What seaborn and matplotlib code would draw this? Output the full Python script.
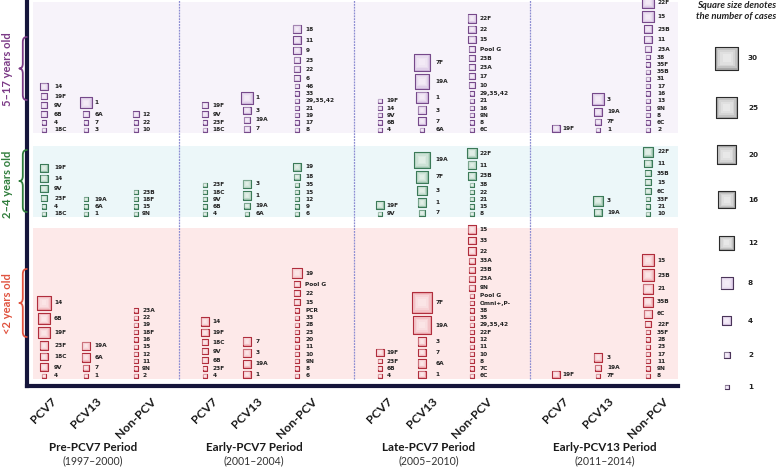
import numpy as np
import pandas as pd
import seaborn as sb
import matplotlib.pyplot as plt
from matplotlib.path import Path
from matplotlib.patches import PathPatch

# ##############################################################################
# data: (vaccine group, serotype, cases), each cell listed top to bottom
PERIODS = ['Pre-PCV7 Period', 'Early-PCV7 Period', 'Late-PCV7 Period', 'Early-PCV13 Period']
YEARS = ['(1997\u20132000)', '(2001\u20132004)', '(2005\u20132010)', '(2011\u20132014)']
GROUPS = ['PCV7', 'PCV13', 'Non-PCV']
AGES = ['5\u201317 years old', '2\u20134 years old', '<2 years old']
LEGEND_CASES = [30, 25, 20, 16, 12, 8, 4, 2, 1]

pre_5_17 = [('PCV7', '14', 3), ('PCV7', '19F', 2), ('PCV7', '9V', 2), ('PCV7', '6B', 2),
            ('PCV7', '4', 1), ('PCV7', '18C', 1),
            ('PCV13', '1', 7), ('PCV13', '6A', 2), ('PCV13', '7', 1), ('PCV13', '3', 1),
            ('Non-PCV', '12', 2), ('Non-PCV', '22', 1), ('Non-PCV', '10', 1)]
pre_2_4 = [('PCV7', '19F', 3), ('PCV7', '14', 3), ('PCV7', '9V', 3), ('PCV7', '23F', 2),
           ('PCV7', '4', 1), ('PCV7', '18C', 1),
           ('PCV13', '19A', 1), ('PCV13', '6A', 1), ('PCV13', '1', 1),
           ('Non-PCV', '23B', 1), ('Non-PCV', '18F', 1), ('Non-PCV', '15', 1), ('Non-PCV', '9N', 1)]
pre_lt2 = [('PCV7', '14', 11), ('PCV7', '6B', 7), ('PCV7', '19F', 7), ('PCV7', '23F', 4),
           ('PCV7', '18C', 3), ('PCV7', '9V', 3), ('PCV7', '4', 1),
           ('PCV13', '19A', 4), ('PCV13', '6A', 4), ('PCV13', '7', 2), ('PCV13', '1', 1),
           ('Non-PCV', '23A', 1), ('Non-PCV', '22', 1), ('Non-PCV', '19', 1), ('Non-PCV', '18F', 1),
           ('Non-PCV', '16', 1), ('Non-PCV', '15', 1), ('Non-PCV', '12', 1), ('Non-PCV', '11', 1),
           ('Non-PCV', '9N', 1), ('Non-PCV', '2', 1)]

e7_5_17 = [('PCV7', '19F', 2), ('PCV7', '9V', 2), ('PCV7', '23F', 1), ('PCV7', '18C', 1),
           ('PCV13', '1', 7), ('PCV13', '3', 3), ('PCV13', '19A', 2), ('PCV13', '7', 2),
           ('Non-PCV', '18', 4), ('Non-PCV', '11', 3), ('Non-PCV', '9', 3), ('Non-PCV', '23', 2),
           ('Non-PCV', '22', 2), ('Non-PCV', '6', 2), ('Non-PCV', '46', 1), ('Non-PCV', '33', 1),
           ('Non-PCV', '29,35,42', 1), ('Non-PCV', '21', 1), ('Non-PCV', '19', 1),
           ('Non-PCV', '17', 1), ('Non-PCV', '8', 1)]
e7_2_4 = [('PCV7', '23F', 1), ('PCV7', '18C', 1), ('PCV7', '9V', 1), ('PCV7', '6B', 1), ('PCV7', '4', 1),
          ('PCV13', '3', 4), ('PCV13', '1', 4), ('PCV13', '19A', 2), ('PCV13', '6A', 1),
          ('Non-PCV', '19', 3), ('Non-PCV', '18', 2), ('Non-PCV', '35', 1), ('Non-PCV', '15', 1),
          ('Non-PCV', '12', 1), ('Non-PCV', '9', 1), ('Non-PCV', '6', 1)]
e7_lt2 = [('PCV7', '14', 4), ('PCV7', '19F', 3), ('PCV7', '18C', 2), ('PCV7', '9V', 2),
          ('PCV7', '6B', 2), ('PCV7', '23F', 1), ('PCV7', '4', 1),
          ('PCV13', '7', 4), ('PCV13', '3', 4), ('PCV13', '19A', 3), ('PCV13', '1', 3),
          ('Non-PCV', '19', 6), ('Non-PCV', 'Pool G', 2), ('Non-PCV', '22', 2), ('Non-PCV', '15', 2),
          ('Non-PCV', 'PCR', 1), ('Non-PCV', '33', 1), ('Non-PCV', '28', 1), ('Non-PCV', '23', 1),
          ('Non-PCV', '20', 1), ('Non-PCV', '11', 1), ('Non-PCV', '10', 1), ('Non-PCV', '9N', 1),
          ('Non-PCV', '8', 1), ('Non-PCV', '6', 1)]

l7_5_17 = [('PCV7', '19F', 1), ('PCV7', '14', 1), ('PCV7', '9V', 1), ('PCV7', '6B', 1), ('PCV7', '4', 1),
           ('PCV13', '7F', 16), ('PCV13', '19A', 12), ('PCV13', '1', 7), ('PCV13', '3', 4),
           ('PCV13', '7', 3), ('PCV13', '6A', 1),
           ('Non-PCV', '22F', 4), ('Non-PCV', '22', 3), ('Non-PCV', '15', 3), ('Non-PCV', 'Pool G', 2),
           ('Non-PCV', '23B', 2), ('Non-PCV', '23A', 2), ('Non-PCV', '17', 2), ('Non-PCV', '10', 2),
           ('Non-PCV', '29,35,42', 1), ('Non-PCV', '21', 1), ('Non-PCV', '16', 1), ('Non-PCV', '9N', 1),
           ('Non-PCV', '8', 1), ('Non-PCV', '6C', 1)]
l7_2_4 = [('PCV7', '19F', 3), ('PCV7', '9V', 1),
          ('PCV13', '19A', 14), ('PCV13', '7F', 8), ('PCV13', '3', 5), ('PCV13', '1', 4), ('PCV13', '7', 2),
          ('Non-PCV', '22F', 5), ('Non-PCV', '11', 4), ('Non-PCV', '23B', 3), ('Non-PCV', '38', 1),
          ('Non-PCV', '22', 1), ('Non-PCV', '21', 1), ('Non-PCV', '15', 1), ('Non-PCV', '8', 1)]
l7_lt2 = [('PCV7', '19F', 3), ('PCV7', '23F', 1), ('PCV7', '6B', 1), ('PCV7', '4', 1),
          ('PCV13', '7F', 24), ('PCV13', '19A', 18), ('PCV13', '3', 4), ('PCV13', '7', 3),
          ('PCV13', '6A', 4), ('PCV13', '1', 3),
          ('Non-PCV', '15', 4), ('Non-PCV', '33', 3), ('Non-PCV', '22', 3), ('Non-PCV', '33A', 2),
          ('Non-PCV', '23B', 2), ('Non-PCV', '23A', 2), ('Non-PCV', '9N', 2), ('Non-PCV', 'Pool G', 1),
          ('Non-PCV', 'Omni+,P-', 1), ('Non-PCV', '38', 1), ('Non-PCV', '35', 1),
          ('Non-PCV', '29,35,42', 1), ('Non-PCV', '22F', 1), ('Non-PCV', '12', 1), ('Non-PCV', '11', 1),
          ('Non-PCV', '10', 1), ('Non-PCV', '8', 1), ('Non-PCV', '7C', 1), ('Non-PCV', '6C', 1)]

e13_5_17 = [('PCV7', '19F', 3),
            ('PCV13', '3', 8), ('PCV13', '19A', 3), ('PCV13', '7F', 2), ('PCV13', '1', 1),
            ('Non-PCV', '22F', 8), ('Non-PCV', '15', 7), ('Non-PCV', '23B', 3), ('Non-PCV', '11', 3),
            ('Non-PCV', '23A', 2), ('Non-PCV', '38', 1), ('Non-PCV', '35F', 1), ('Non-PCV', '35B', 1),
            ('Non-PCV', '31', 1), ('Non-PCV', '17', 1), ('Non-PCV', '16', 1), ('Non-PCV', '13', 1),
            ('Non-PCV', '9N', 1), ('Non-PCV', '8', 1), ('Non-PCV', '6C', 1), ('Non-PCV', '2', 1)]
e13_2_4 = [('PCV13', '3', 5), ('PCV13', '19A', 3),
           ('Non-PCV', '22F', 5), ('Non-PCV', '11', 3), ('Non-PCV', '35B', 2), ('Non-PCV', '15', 2),
           ('Non-PCV', '6C', 2), ('Non-PCV', '33F', 1), ('Non-PCV', '21', 1), ('Non-PCV', '10', 1)]
e13_lt2 = [('PCV7', '19F', 3),
           ('PCV13', '3', 4), ('PCV13', '19A', 2), ('PCV13', '7F', 1),
           ('Non-PCV', '15', 8), ('Non-PCV', '23B', 7), ('Non-PCV', '21', 6), ('Non-PCV', '35B', 5),
           ('Non-PCV', '6C', 4), ('Non-PCV', '22F', 2), ('Non-PCV', '35F', 1), ('Non-PCV', '28', 1),
           ('Non-PCV', '23', 1), ('Non-PCV', '17', 1), ('Non-PCV', '11', 1), ('Non-PCV', '9N', 1),
           ('Non-PCV', '8', 1)]

CELLS = [[pre_5_17, pre_2_4, pre_lt2],
         [e7_5_17, e7_2_4, e7_lt2],
         [l7_5_17, l7_2_4, l7_lt2],
         [e13_5_17, e13_2_4, e13_lt2]]

# ##############################################################################
# layout (pixel units)
DPI = 100
W, H = 780, 468
AX_L, AX_R, AX_B = 27, 678, 386           # main axes edges in image pixels
PERIOD_X0 = [-9, 152, 327, 503]          # period starts (axes px)
COL_DX = [26, 68, 118]
BAND_Y = [(253, 384), (169, 240.3), (7, 158)]
BAND_COL = ['#f7f3fa', '#ecf7f9', '#fde9e9']
FILL = ['#d3bcdf', '#9fc6b0', '#eeaab0']
GLOW = ['#fbf6fd', '#f1f8f4', '#fff3f4']
EDGE = ['#76498a', '#3b7a58', '#b02d3c']
AGE_COL = ['#7b3a86', '#2f7d3b', '#e0533f']
SIZE_MIN, SIZE_MAX = 9.36, 280.8          # marker area (pt^2) for 1 and 30 cases
EDGE_LW = 0.8
GAP = 1.9
GLOW_STEPS = [0.75, 0.5, 0.3, 0.12]       # fractions of marker area for the soft centre


def side_px(n):
  area = SIZE_MIN + (np.asarray(n, dtype=float) - 1) / 29 * (SIZE_MAX - SIZE_MIN)
  return np.sqrt(area) * DPI / 72 + EDGE_LW * DPI / 72


def draw_squares(axis, data, fc, ec, glow):
  # square outline + fill, then a few translucent layers for a soft centre
  sb.scatterplot(data=data, x='x', y='y', size='cases', sizes=(SIZE_MIN, SIZE_MAX),
                 size_norm=(1, 30), marker='s', color=fc, edgecolor=ec,
                 linewidth=EDGE_LW, legend=False, ax=axis, zorder=3)
  for f in GLOW_STEPS:
    sb.scatterplot(data=data, x='x', y='y', size='cases', sizes=(SIZE_MIN * f, SIZE_MAX * f),
                   size_norm=(1, 30), marker='s', color=glow, linewidth=0, alpha=0.35,
                   legend=False, ax=axis, zorder=4)


rows = []
for p in range(len(PERIODS)):
  for a in range(len(AGES)):
    for grp, sero, n in CELLS[p][a]:
      rows.append({'period': p, 'age': a, 'group': GROUPS.index(grp),
                   'serotype': sero, 'cases': n})
df = pd.DataFrame(rows)
df['side'] = side_px(df['cases'])
df['x'] = [PERIOD_X0[p] + COL_DX[g] for p, g in zip(df['period'], df['group'])]
df['y'] = 0.0
for (p, a, g), sub in df.groupby(['period', 'age', 'group']):
  s = sub['side'].to_numpy()[::-1]
  centers = BAND_Y[a][0] + 0.5 + np.cumsum(s + GAP) - GAP - s / 2
  df.loc[sub.index[::-1], 'y'] = centers
df['lx'] = df['x'] + df.groupby(['period', 'group'])['side'].transform('max') / 2 + 2.5

# ##############################################################################
sb.set_style('white')
plt.rcParams['font.family'] = ['Lato', 'DejaVu Sans']

fig = plt.figure(figsize=(W / DPI, H / DPI), dpi=DPI)
ax = fig.add_axes([AX_L / W, (H - AX_B) / H, (AX_R - AX_L) / W, AX_B / H])
ax.set_xlim(0, AX_R - AX_L)
ax.set_ylim(0, AX_B)

# background bands and period separators
for a in range(len(AGES)):
  ax.axhspan(BAND_Y[a][0], BAND_Y[a][1], xmin=6 / (AX_R - AX_L), xmax=1,
             color=BAND_COL[a], lw=0, zorder=0)
for x0 in PERIOD_X0[1:]:
  ax.axvline(x0, ymin=7 / AX_B, ymax=1, color='#8c8cd2', lw=0.9,
             ls=(0, (1.5, 0.8)), zorder=1)

# squares + serotype labels
for a in range(len(AGES)):
  sub = df[df['age'] == a]
  draw_squares(ax, sub, FILL[a], EDGE[a], GLOW[a])
  for r in sub.itertuples():
    ax.text(r.lx, r.y, r.serotype, fontsize=4.2, fontweight='bold', color='#222222',
            family='DejaVu Sans', ha='left', va='center', zorder=5)

# axes styling
ax.set_xlabel('')
ax.set_ylabel('')
ax.set_yticks([])
col_x = [PERIOD_X0[p] + COL_DX[g] for p in range(len(PERIODS)) for g in range(len(GROUPS))]
ax.set_xticks(col_x, labels=GROUPS * len(PERIODS))
ax.tick_params(axis='x', length=0, pad=7, labelsize=8.8, labelrotation=45,
               labelcolor='#1a1a1a')
for t in ax.get_xticklabels():
  t.set_fontweight('bold')
for side in ['top', 'right']:
  ax.spines[side].set_visible(False)
for side in ['left', 'bottom']:
  ax.spines[side].set_color('#15153b')
  ax.spines[side].set_linewidth(3)

# ------------------------------------------------------------------------------
# overlay in image pixels: age labels, braces, period titles, size legend
ov = fig.add_axes([0, 0, 1, 1])
ov.set_xlim(0, W)
ov.set_ylim(H, 0)
ov.axis('off')

AGE_TEXT_Y = [69.5, 184, 303.7]
BRACE_Y = [(37, 100), (150, 212), (269, 337)]


def brace(axis, y0, y1, color, x_arm=26.8, x_mid=22.8, x_tip=19.3, r=5):
  ym = (y0 + y1) / 2
  verts = [(x_arm, y0), (x_mid, y0), (x_mid, y0 + r),
           (x_mid, ym - r), (x_mid, ym), (x_tip, ym),
           (x_mid, ym), (x_mid, ym + r),
           (x_mid, y1 - r), (x_mid, y1), (x_arm, y1)]
  codes = [Path.MOVETO, Path.CURVE3, Path.CURVE3, Path.LINETO, Path.CURVE3, Path.CURVE3,
           Path.CURVE3, Path.CURVE3, Path.LINETO, Path.CURVE3, Path.CURVE3]
  axis.add_patch(PathPatch(Path(verts, codes), fc='none', ec=color, lw=1.3,
                           capstyle='round', joinstyle='round'))


for a, age in enumerate(AGES):
  ov.text(8, AGE_TEXT_Y[a], age, rotation=90, ha='center', va='center',
          fontsize=8, fontweight='bold', color=AGE_COL[a])
  brace(ov, BRACE_Y[a][0], BRACE_Y[a][1], AGE_COL[a])

for p, period in enumerate(PERIODS):
  xc = AX_L + PERIOD_X0[p] + 75
  ov.text(xc, 447.7, period, ha='center', va='center', fontsize=8.4,
          fontweight='bold', color='#1a1a1a')
  ov.text(xc, 460.7, YEARS[p], ha='center', va='center', fontsize=7.6, color='#333333')

# size legend
leg = pd.DataFrame({'cases': LEGEND_CASES})
leg['side'] = side_px(leg['cases'])
leg['x'] = 726.7
leg['y'] = 46 + np.cumsum(leg['side'] + 26) - 26 - leg['side'] / 2
leg['tone'] = np.where(leg['cases'] >= 12, 'grey', 'purple')
for tone, fc, ec, glow in [('grey', '#a9a9a9', '#2b2b2b', '#f7f7f7'),
                           ('purple', '#d8c5e4', '#4a3459', '#fbf6fd')]:
  draw_squares(ov, leg[leg['tone'] == tone], fc, ec, glow)
for r in leg.itertuples():
  ov.text(748, r.y, str(r.cases), ha='left', va='center', fontsize=5.2,
          fontweight='bold', family='DejaVu Sans', color='#222222')
ov.text(736.5, 11, 'Square size denotes\nthe number of cases', ha='center', va='center',
        fontsize=6.8, fontweight='bold', fontstyle='italic', color='#222222',
        linespacing=1.15)
ov.set_xlim(0, W)
ov.set_ylim(H, 0)
ov.set_xlabel('')
ov.set_ylabel('')

fig.savefig('out.png', dpi=DPI)
plt.close('all')
